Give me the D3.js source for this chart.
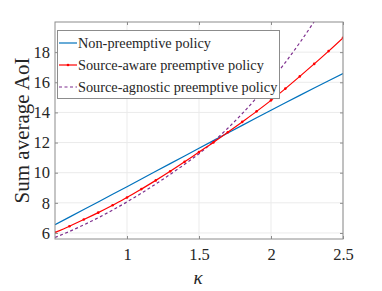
<!DOCTYPE html>
<html>
<head>
<meta charset="utf-8">
<script src="https://cdn.jsdelivr.net/npm/d3@7"></script>
<style>
  body { margin: 0; background: #fff; }
  svg { display: block; }
  text { font-family: "Liberation Serif", "Times New Roman", serif; fill: #262626; }
</style>
</head>
<body>
<svg id="chart" width="382" height="291"></svg>
<script>
// kappa values and sum average AoI for each policy
var kappa = [0.5,0.6,0.7,0.8,0.9,1.0,1.1,1.2,1.3,1.4,1.5,1.6,1.7,1.8,1.9,2.0,2.1,2.2,2.3,2.4,2.5];
var nonPreemptive = [6.55,7.05,7.56,8.06,8.57,9.07,9.58,10.09,10.60,11.11,11.62,12.13,12.63,13.14,13.64,14.15,14.64,15.13,15.62,16.10,16.58];
var sourceAware = [6.03,6.45,6.89,7.35,7.84,8.35,8.91,9.49,10.09,10.72,11.37,12.01,12.68,13.37,14.07,14.80,15.58,16.39,17.22,18.07,18.95];
var sourceAgnostic = [5.70,6.10,6.54,7.01,7.52,8.06,8.64,9.25,9.89,10.56,11.26,12.06,12.95,13.92,14.97,16.10,17.32,18.63,20.03,21.50,23.10];

var xTicks = [1, 1.5, 2, 2.5];
var yTicks = [6, 8, 10, 12, 14, 16, 18];
var seriesNames = ["Non-preemptive policy", "Source-aware preemptive policy", "Source-agnostic preemptive policy"];

var svg = d3.select("#chart");
var pLeft = 55, pRight = 343, pTop = 22, pBottom = 239;

var x = d3.scaleLinear().domain([0.5, 2.5]).range([pLeft, pRight]);
var y = d3.scaleLinear().domain([5.6, 20]).range([pBottom, pTop]);

// grid
var grid = svg.append("g").attr("stroke", "#ebebeb").attr("stroke-width", 1);
grid.selectAll(".gx").data(xTicks).enter().append("line")
    .attr("x1", d => x(d)).attr("x2", d => x(d)).attr("y1", pTop).attr("y2", pBottom);
grid.selectAll(".gy").data(yTicks).enter().append("line")
    .attr("y1", d => y(d)).attr("y2", d => y(d)).attr("x1", pLeft).attr("x2", pRight);

// lines
var defs = svg.append("defs");
defs.append("clipPath").attr("id", "plotclip").append("rect")
    .attr("x", pLeft).attr("y", pTop).attr("width", pRight - pLeft).attr("height", pBottom - pTop);

var plot = svg.append("g").attr("clip-path", "url(#plotclip)");
var line = d3.line().x((d, i) => x(kappa[i])).y(d => y(d));
var smooth = d3.line().x((d, i) => x(kappa[i])).y(d => y(d)).curve(d3.curveMonotoneX);

plot.append("path").datum(nonPreemptive).attr("d", line)
    .attr("fill", "none").attr("stroke", "#0072BD").attr("stroke-width", 1.2);
plot.append("path").datum(sourceAgnostic).attr("d", smooth)
    .attr("fill", "none").attr("stroke", "#7E2F8E").attr("stroke-width", 1.2)
    .attr("stroke-dasharray", "3,2.5");
plot.append("path").datum(sourceAware).attr("d", smooth)
    .attr("fill", "none").attr("stroke", "#FF0000").attr("stroke-width", 1.2);
plot.selectAll(".mk").data(sourceAware).enter().append("circle")
    .attr("cx", (d, i) => x(kappa[i])).attr("cy", d => y(d)).attr("r", 1.3).attr("fill", "#FF0000");

// axes (MATLAB style box with inward ticks)
var axisColor = "#8c8c8c";
var xAxis = svg.append("g").attr("transform", "translate(0," + pBottom + ")")
    .call(d3.axisBottom(x).tickValues(xTicks).tickSize(-3).tickPadding(9).tickFormat(d3.format("")));
var yAxis = svg.append("g").attr("transform", "translate(" + pLeft + ",0)")
    .call(d3.axisLeft(y).tickValues(yTicks).tickSize(-3).tickPadding(5));
var xTop = svg.append("g").attr("transform", "translate(0," + pTop + ")")
    .call(d3.axisTop(x).tickValues(xTicks).tickSize(-3).tickFormat(""));
var yRight = svg.append("g").attr("transform", "translate(" + pRight + ",0)")
    .call(d3.axisRight(y).tickValues(yTicks).tickSize(-3).tickFormat(""));

[xAxis, yAxis, xTop, yRight].forEach(function(a) {
    a.select(".domain").remove();
    a.selectAll("line").attr("stroke", axisColor);
    a.selectAll("text").attr("font-family", "Liberation Serif").attr("font-size", 16.5).attr("fill", "#262626");
});
svg.append("rect").attr("x", pLeft).attr("y", pTop).attr("width", pRight - pLeft).attr("height", pBottom - pTop)
    .attr("fill", "none").attr("stroke", axisColor).attr("stroke-width", 1);

// labels
svg.append("text").attr("x", 198).attr("y", 284).attr("text-anchor", "middle")
    .attr("font-size", 19).attr("font-style", "italic").text("κ");
svg.append("text").attr("transform", "translate(29," + ((pTop + pBottom) / 2) + ") rotate(-90)")
    .attr("text-anchor", "middle").attr("font-size", 21).text("Sum average AoI");

// legend
var legend = svg.append("g");
legend.append("rect").attr("x", 57.5).attr("y", 30.5).attr("width", 222).attr("height", 68)
    .attr("fill", "#fff").attr("stroke", "#8c8c8c").attr("stroke-width", 1);
var colors = ["#0072BD", "#FF0000", "#7E2F8E"];
var rowY = [43, 65, 87];
seriesNames.forEach(function(name, i) {
    var ln = legend.append("line").attr("x1", 59).attr("x2", 77).attr("y1", rowY[i]).attr("y2", rowY[i])
        .attr("stroke", colors[i]).attr("stroke-width", 1.2);
    if (i === 2) ln.attr("stroke-dasharray", "3,2.5");
    if (i === 1) legend.append("circle").attr("cx", 68).attr("cy", rowY[i]).attr("r", 1.3).attr("fill", colors[i]);
    legend.append("text").attr("x", 78).attr("y", rowY[i] + 5).attr("font-size", 14.3).text(name);
});
</script>
</body>
</html>
